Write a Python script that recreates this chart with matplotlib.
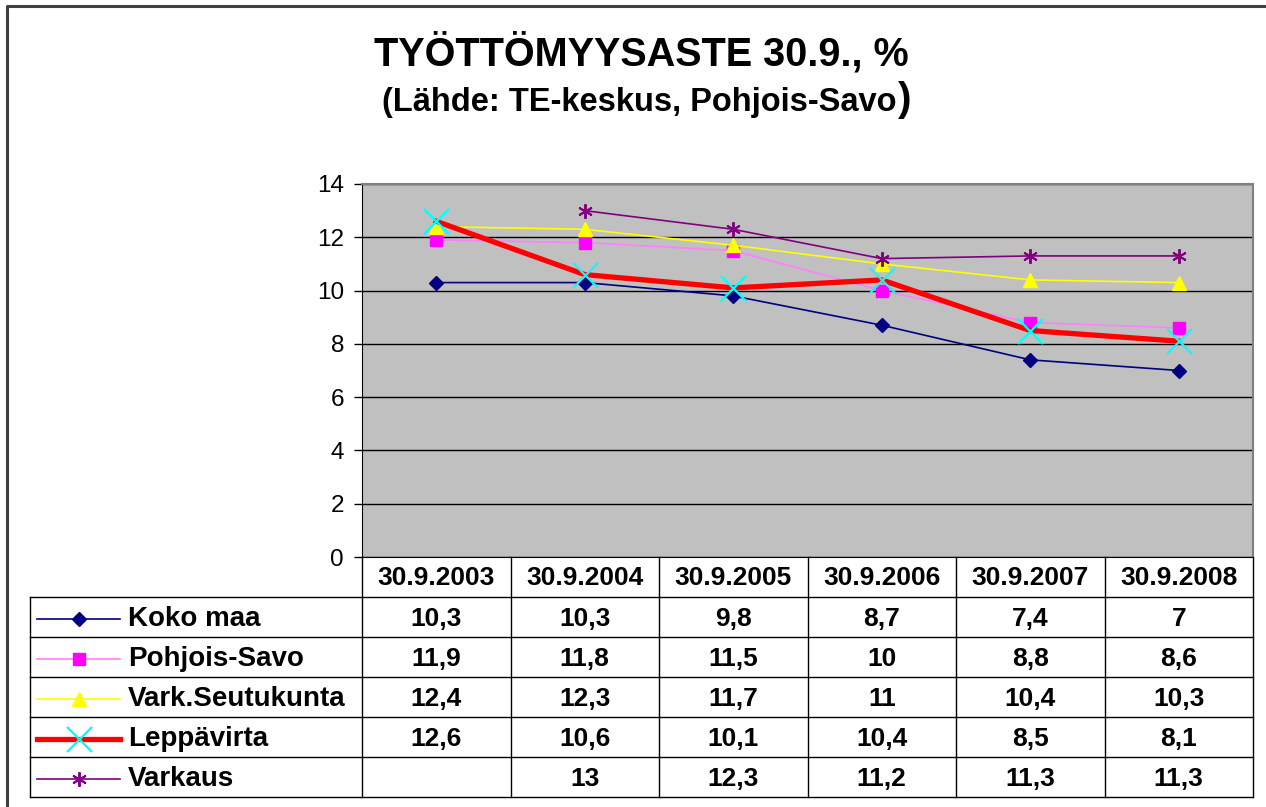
import matplotlib.pyplot as plt
from matplotlib.lines import Line2D
import numpy as np

plt.rcParams['font.family'] = ['Liberation Sans', 'DejaVu Sans']

# data
dates = ['30.9.2003', '30.9.2004', '30.9.2005', '30.9.2006', '30.9.2007', '30.9.2008']
koko_maa = [10.3, 10.3, 9.8, 8.7, 7.4, 7.0]
pohjois_savo = [11.9, 11.8, 11.5, 10.0, 8.8, 8.6]
vark_seutukunta = [12.4, 12.3, 11.7, 11.0, 10.4, 10.3]
leppavirta = [12.6, 10.6, 10.1, 10.4, 8.5, 8.1]
varkaus = [np.nan, 13.0, 12.3, 11.2, 11.3, 11.3]

series = [
    ('Koko maa', koko_maa, dict(color='#000080', lw=1.2, marker='D', ms=7.5,
                                mfc='#000080', mec='#000080')),
    ('Pohjois-Savo', pohjois_savo, dict(color='#FF80FF', lw=1.2, marker='s', ms=8,
                                        mfc='#FF00FF', mec='#FF00FF')),
    ('Vark.Seutukunta', vark_seutukunta, dict(color='#FFFF00', lw=1.2, marker='^', ms=10,
                                              mfc='#FFFF00', mec='#FFFF00')),
    ('Leppävirta', leppavirta, dict(color='#FF0000', lw=3.8, marker='x', ms=18,
                                    mec='#00FFFF', mew=1.6)),
    ('Varkaus', varkaus, dict(color='#800080', lw=1.2, marker=(6, 2, 0), ms=10.5,
                              mec='#800080', mew=1.4)),
]

W, H = 1266, 807
fig = plt.figure(figsize=(W / 100, H / 100), dpi=100)

# plot area in pixels
px0, px1, py0, py1 = 362, 1253, 184, 557
ax = fig.add_axes([px0 / W, 1 - py1 / H, (px1 - px0) / W, (py1 - py0) / H])
ax.set_facecolor('#C0C0C0')
x = np.arange(len(dates))
for name, vals, st in series:
    ax.plot(x, vals, zorder=3, **st)
ax.set_xlim(-0.5, len(dates) - 0.5)
ax.set_ylim(0, 14)
ax.set_yticks(range(0, 15, 2))
ax.tick_params(axis='y', labelsize=17.5, length=6, width=1, pad=7)
ax.set_xticks([])
ax.grid(axis='y', color='black', lw=1)
ax.set_axisbelow(True)
for s in ['top', 'right']:
    ax.spines[s].set_color('#808080')
    ax.spines[s].set_linewidth(1.5)
ax.spines['bottom'].set_color('black')
ax.spines['left'].set_color('black')

# overlay in pixel coordinates for title, border and data table
ov = fig.add_axes([0, 0, 1, 1], zorder=5)
ov.set_xlim(0, W)
ov.set_ylim(H, 0)
ov.axis('off')
ov.patch.set_alpha(0)

# figure border (left and top)
ov.plot([7, 7, W], [H, 6, 6], color='#404040', lw=2.2)

ov.text(641, 53, 'TYÖTTÖMYYSASTE 30.9., %', ha='center', va='center',
        fontsize=28.5, fontweight='bold')
ov.text(896, 103, '(Lähde: TE-keskus, Pohjois-Savo', ha='right', va='center',
        fontsize=23.5, fontweight='bold')
ov.text(898, 100, ')', ha='left', va='center', fontsize=29, fontweight='bold')

# table geometry
cw = (px1 - px0) / len(dates)
row_h = 40
leg_x0 = 30
rows_top = py1 + row_h
nrows = len(series)
lc = 'black'

# header row
for i, d in enumerate(dates):
    ov.text(px0 + (i + 0.5) * cw, py1 + row_h / 2 + 1, d, ha='center', va='center',
            fontsize=19, fontweight='bold')
# vertical lines
for i in range(len(dates) + 1):
    ov.plot([px0 + i * cw] * 2, [py1, rows_top + nrows * row_h], color=lc, lw=1)
ov.plot([leg_x0] * 2, [rows_top, rows_top + nrows * row_h], color=lc, lw=1)
# horizontal lines
for r in range(nrows + 1):
    y = rows_top + r * row_h
    ov.plot([leg_x0, px1], [y, y], color=lc, lw=1)

def fmt(v):
    if np.isnan(v):
        return ''
    if float(v).is_integer():
        return str(int(v))
    return f'{v:.1f}'.replace('.', ',')

for r, (name, vals, st) in enumerate(series):
    yc = rows_top + (r + 0.5) * row_h + 2
    ov.add_line(Line2D([37, 120], [yc, yc], **{k: v for k, v in st.items() if k != 'marker'}))
    ov.plot([78.5], [yc], linestyle='none', marker=st['marker'], ms=st['ms'],
            mfc=st.get('mfc', 'none'), mec=st.get('mec'), mew=st.get('mew', 1))
    ov.text(128, yc, name, ha='left', va='center', fontsize=20, fontweight='bold')
    for i, v in enumerate(vals):
        ov.text(px0 + (i + 0.5) * cw, yc, fmt(v), ha='center', va='center',
                fontsize=19, fontweight='bold')

fig.savefig('out.png', dpi=100)
